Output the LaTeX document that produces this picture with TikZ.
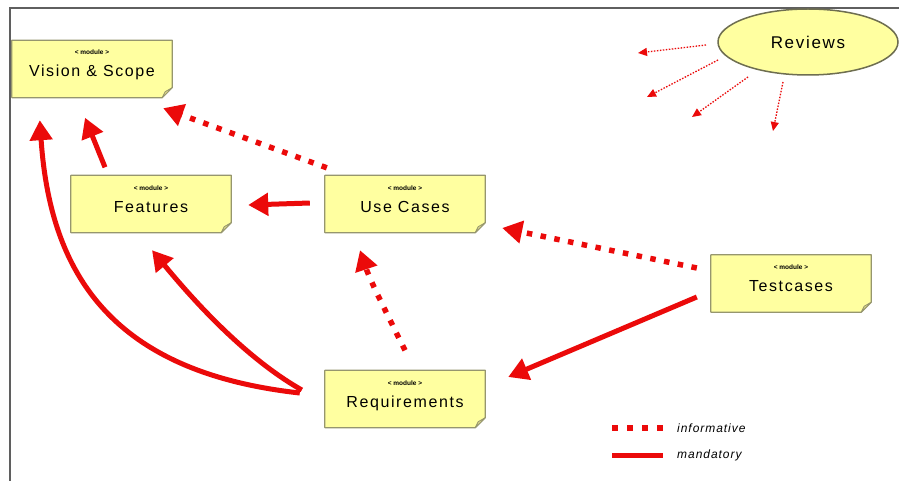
\documentclass[tikz,border=0pt]{standalone}
\usepackage{fontspec}
\setmainfont{Liberation Sans}
\newfontfamily\namefont[LetterSpace=10]{Liberation Sans}
\newfontfamily\legfont[LetterSpace=8]{Liberation Sans}
\usetikzlibrary{arrows.meta,calc,shapes.geometric}
\pgfdeclarelayer{bg}
\pgfsetlayers{bg,main}
\definecolor{notefill}{RGB}{255,255,160}
\definecolor{noteline}{RGB}{150,150,110}
\definecolor{foldfill}{RGB}{225,220,140}
\definecolor{arrred}{RGB}{235,10,10}
\definecolor{framegray}{RGB}{95,95,95}
\definecolor{ellline}{RGB}{110,110,80}
\tikzset{
  notebox/.style={rectangle,inner sep=0pt,minimum width=160pt,minimum height=57pt},
  modlbl/.style={inner sep=0pt,font=\fontsize{6.5}{6.5}\selectfont\bfseries},
  namelbl/.style={inner sep=0pt,font=\fontsize{16}{16}\namefont},
  mand/.style={draw=arrred,line width=5pt,-{Triangle[length=20pt,width=22pt]}},
  info/.style={draw=arrred,line width=5.5pt,dash pattern=on 5.5pt off 8.5pt,-{Triangle[length=20pt,width=22pt]}},
  revarrow/.style={draw=arrred,line width=1.3pt,dash pattern=on 1.5pt off 1.5pt,-{Triangle[length=9pt,width=8pt]}},
  legtext/.style={inner sep=0pt,anchor=west,font=\fontsize{12}{12}\legfont\itshape},
}
\newcommand\drawnote[1]{%
  \begin{pgfonlayer}{bg}
  \filldraw[fill=notefill,draw=noteline,line width=1.2pt,line join=round]
    (#1.north west) -- (#1.north east) -- ($(#1.south east)+(0,-10)$)
    -- ($(#1.south east)+(-10,0)$) -- (#1.south west) -- cycle;
  \filldraw[fill=foldfill,draw=noteline,line width=0.8pt,line join=round]
    ($(#1.south east)+(0,-10)$) -- ($(#1.south east)+(-10,0)$)
    -- ($(#1.south east)+(-7,-6)$) -- cycle;
  \end{pgfonlayer}%
  \node[modlbl,anchor=base] (#1-m) at ($(#1.center)+(0,-14)$) {< module >};}
\newcommand\notename[2]{%
  \node[namelbl,anchor=base] (#1-t) at ($(#1.center)+(0,8)$) {#2};}
\begin{document}
\begin{tikzpicture}[x=1pt,y=-1pt]
\useasboundingbox (0,0) rectangle (899,481);
\begin{pgfonlayer}{bg}
\fill[white] (0,0) rectangle (899,481);
\end{pgfonlayer}
% frame
\draw[framegray,line width=2pt] (10,481) -- (10,8) -- (899,8);

% modules
\node[notebox] (vision) at (92,69) {};
\node[notebox] (features) at (151,204) {};
\node[notebox] (usecases) at (405,204) {};
\node[notebox] (testcases) at (791,283.5) {};
\node[notebox] (requirements) at (405,399) {};
\drawnote{vision}\notename{vision}{Vision \& Scope}
\drawnote{features}\notename{features}{Features}
\drawnote{usecases}\notename{usecases}{Use Cases}
\drawnote{testcases}\notename{testcases}{Testcases}
\drawnote{requirements}\notename{requirements}{Requirements}

% reviews
\node[ellipse,draw=ellline,line width=1.5pt,fill=notefill,minimum width=180pt,minimum height=66pt,inner sep=0pt,
      font=\fontsize{17}{17}\namefont] (reviews) at (808,42) {Reviews};

% mandatory
\draw[mand] ($(features.north)+(-46,-8)$) -- ($(vision.south)+(-7,20)$);
\draw[mand] ($(usecases.west)+(-15,-1)$) -- ($(features.east)+(17,1)$);
\draw[mand] ($(testcases.west)+(-14,13.5)$) -- ($(requirements.east)+(23,-22)$);
\draw[mand] ($(requirements.west)+(-23,-9)$) .. controls (240,355) and (185,290) .. ($(features.south)+(1,17.5)$);
\draw[mand] ($(requirements.west)+(-25,-6)$) .. controls (110,372) and (50,272) .. ($(vision.south west)+(28,22.5)$);

% informative
\draw[info] ($(usecases.north west)+(2,-7.5)$) -- ($(vision.south east)+(-9,10.5)$);
\draw[info] ($(testcases.west)+(-14,-15.5)$) -- ($(usecases.east)+(17,24)$);
\draw[info] ($(requirements.north)+(0,-20)$) .. controls (385,310) and (370,280) .. ($(usecases.south)+(-45,17.5)$);

% reviews arrows
\coordinate (r1) at (638,53);
\coordinate (r2) at (647,97);
\coordinate (r3) at (692,117);
\coordinate (r4) at (773,131);
\draw[revarrow] ($(reviews.center)+(-102,3)$) -- (r1);
\draw[revarrow] ($(reviews.center)+(-90,18)$) -- (r2);
\draw[revarrow] ($(reviews.center)+(-60,35)$) -- (r3);
\draw[revarrow] ($(reviews.center)+(-25,40)$) -- (r4);

% legend
\coordinate (li1) at (612,428);
\coordinate (li2) at (666,428);
\coordinate (lm1) at (612,455);
\coordinate (lm2) at (663,455);
\draw[arrred,line width=6pt,dash pattern=on 6pt off 9pt] (li1) -- (li2);
\draw[arrred,line width=5pt] (lm1) -- (lm2);
\node[legtext] (leginfo) at (677,428) {informative};
\node[legtext] (legmand) at (677,455) {mandatory};
\end{tikzpicture}
\end{document}
